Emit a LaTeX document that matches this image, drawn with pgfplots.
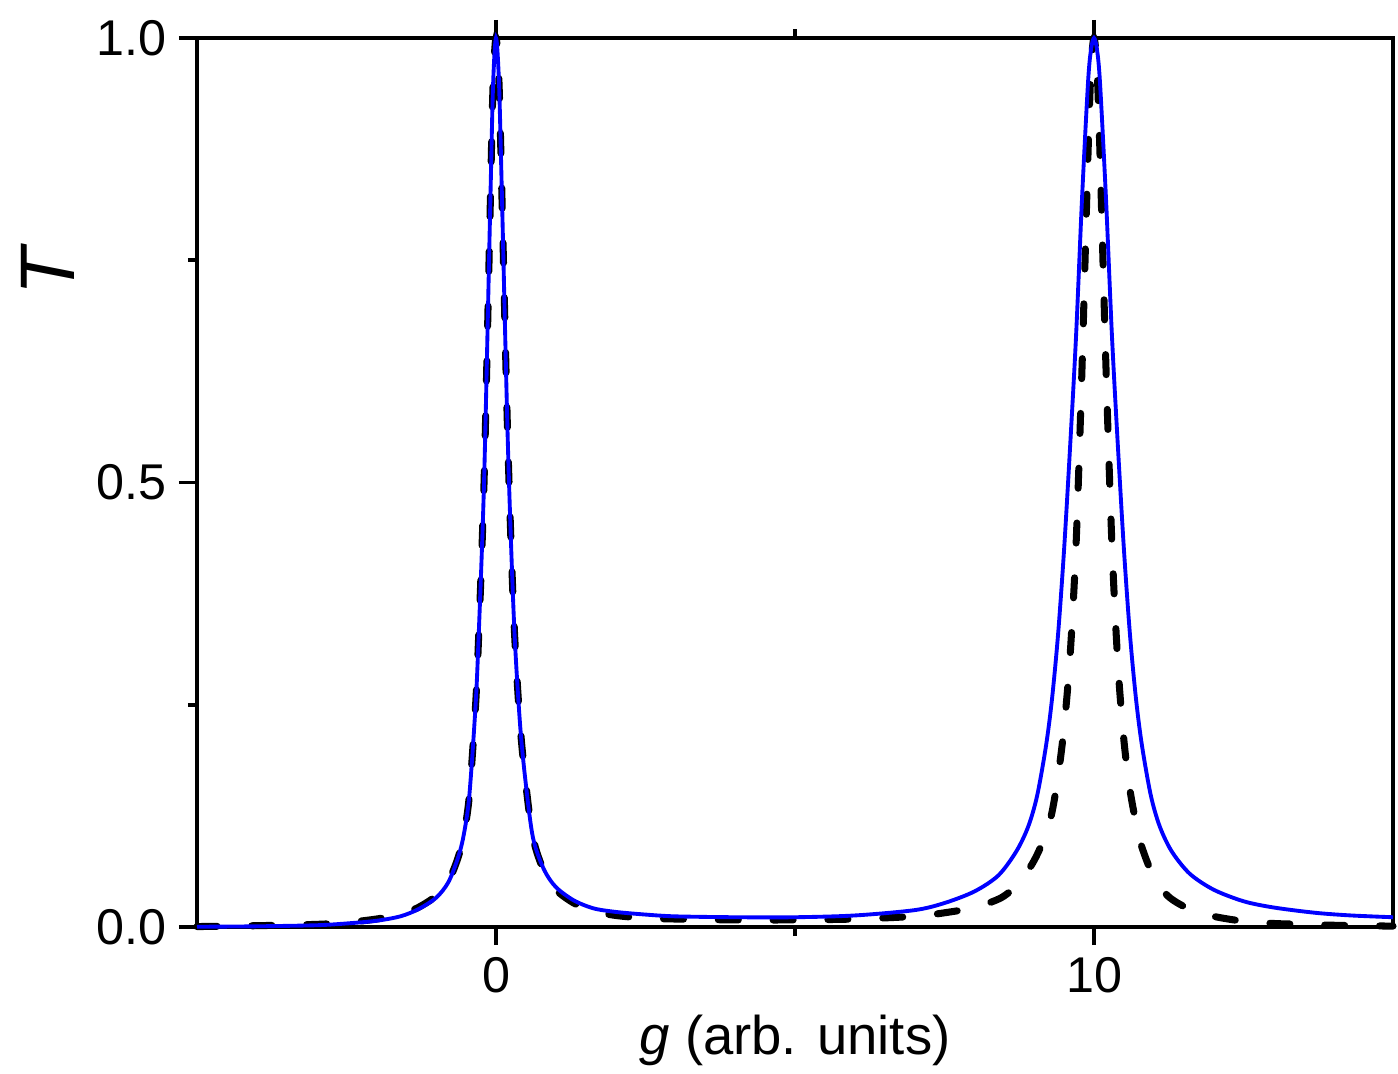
\documentclass[border=0pt]{standalone}
\usepackage{fontspec}
\setmainfont{Liberation Sans}
\usepackage{pgfplots}
\pgfplotsset{compat=1.18}
\begin{document}
\begin{tikzpicture}
\begin{axis}[
  scale only axis,
  width=11.96cm, height=8.89cm,
  xmin=-5, xmax=15, ymin=0, ymax=1,
  clip=false,
  axis line style={line width=1.1pt},
  every tick/.style={line width=1.1pt, black},
  tick align=outside,
  major tick length=0.18cm,
  minor tick length=0.09cm,
  xtick={0,10}, minor xtick={5},
  ytick={0,0.5,1}, minor ytick={0.25,0.75},
  xtick pos=both, ytick pos=left,
  xticklabel pos=bottom,
  /pgf/number format/assume math mode=true,
  yticklabel style={/pgf/number format/.cd, fixed, fixed zerofill, precision=1},
  ticklabel style={font=\fontsize{14.3}{17}\selectfont},
  xlabel={\textit{g} (arb. units)},
  xlabel style={font=\fontsize{15.5}{18}\selectfont, at={(axis description cs:0.5,-0.127)}, anchor=center},
  ylabel={\textit{T}},
  ylabel style={font=\fontsize{22}{26}\selectfont, at={(axis description cs:-0.125,0.74)}, anchor=center, rotate=0},
]
\addplot[black, line width=2pt, line cap=round, dash pattern=on 5.7pt off 9.9pt, smooth, tension=0.5] coordinates {
(-5,0.0005) (-4,0.0015) (-3,0.003) (-2.5,0.005) (-2,0.009) (-1.6,0.014) (-1.3,0.022) (-1.0,0.035)
(-0.8,0.051) (-0.65,0.075) (-0.55,0.10) (-0.45,0.145) (-0.35,0.24) (-0.3,0.31) (-0.2,0.50) (-0.1,0.80)
(-0.05,0.945) (0,1.0) (0.05,0.95) (0.1,0.82) (0.2,0.54) (0.3,0.345) (0.4,0.23) (0.5,0.16) (0.62,0.10)
(0.8,0.063) (1.0,0.042) (1.3,0.027) (1.63,0.018) (2,0.013) (2.5,0.010) (3,0.009) (4,0.008) (5,0.008)
(6,0.009) (7.0,0.012) (7.5,0.016) (8.0,0.022) (8.45,0.033) (8.75,0.05) (9.0,0.075) (9.2,0.105)
(9.3,0.13) (9.4,0.17) (9.5,0.225) (9.6,0.305) (9.7,0.43) (9.8,0.63) (9.9,0.87) (9.95,0.965) (10.0,1.0)
(10.05,0.965) (10.1,0.87) (10.2,0.63) (10.3,0.43) (10.4,0.295) (10.5,0.21) (10.6,0.155) (10.7,0.118)
(10.8,0.09) (11.0,0.056) (11.25,0.034) (11.6,0.02) (12.0,0.012) (12.5,0.0065) (13.0,0.004)
(13.5,0.003) (14,0.002) (15,0.001)
};
\addplot[blue, line width=1.1pt, smooth, tension=0.5] coordinates {
(-5,0.0003) (-4,0.0008) (-3,0.002) (-2.5,0.004) (-2,0.007) (-1.6,0.012) (-1.3,0.02) (-1.0,0.033)
(-0.8,0.05) (-0.65,0.075) (-0.55,0.10) (-0.45,0.145) (-0.35,0.24) (-0.3,0.31) (-0.2,0.50) (-0.1,0.80)
(-0.05,0.945) (0,1.0) (0.05,0.95) (0.1,0.82) (0.2,0.54) (0.3,0.345) (0.4,0.23) (0.5,0.16) (0.62,0.10)
(0.8,0.065) (1.0,0.045) (1.3,0.03) (1.63,0.021) (2,0.017) (2.5,0.014) (3,0.012) (4,0.011) (5,0.011)
(6,0.013) (7,0.019) (7.5,0.027) (8,0.040) (8.4,0.058) (8.7,0.085) (8.9,0.113) (9.05,0.148) (9.2,0.205)
(9.3,0.258) (9.4,0.33) (9.5,0.425) (9.6,0.54) (9.7,0.665) (9.8,0.82) (9.9,0.95) (9.95,0.987) (10,1.0)
(10.05,0.987) (10.1,0.95) (10.2,0.82) (10.3,0.665) (10.4,0.54) (10.5,0.425) (10.6,0.33) (10.7,0.258)
(10.8,0.205) (10.95,0.148) (11.1,0.113) (11.3,0.085) (11.6,0.06) (12.0,0.042) (12.5,0.029) (13,0.022)
(13.7,0.016) (14.3,0.013) (15,0.011)
};
\end{axis}
\pgfresetboundingbox
\path[use as bounding box] (current axis.south west) ++(-1.97cm,-1.46cm) rectangle ([xshift=0.05cm,yshift=0.38cm]current axis.north east);
\end{tikzpicture}
\end{document}
